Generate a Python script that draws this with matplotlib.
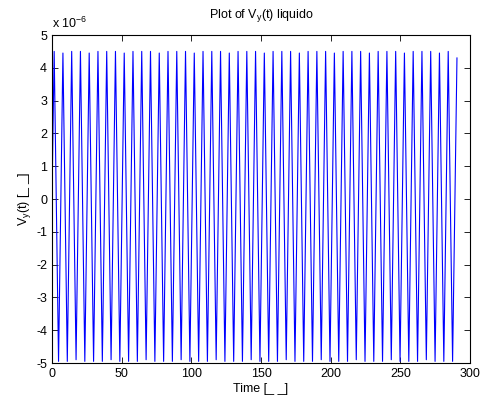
import matplotlib
matplotlib.use('Agg')
import matplotlib.pyplot as plt
from matplotlib.ticker import MultipleLocator

# extremes of the oscillation (values in units of 1e-6)
t_peaks = [1.57, 7.85, 14.14, 20.42, 26.70, 32.99, 39.27, 45.55, 51.84, 58.12,
           64.40, 70.69, 76.97, 83.25, 89.54, 95.82, 102.10, 108.38, 114.67, 120.95,
           127.23, 133.52, 139.80, 146.08, 152.37, 158.65, 164.93, 171.22, 177.50, 183.78,
           190.07, 196.35, 202.63, 208.92, 215.20, 221.48, 227.77, 234.05, 240.33, 246.62,
           252.90, 259.18, 265.47, 271.75, 278.03, 284.32, 290.60]
v_peaks = [4.5, 4.45, 4.5, 4.5, 4.45, 4.5, 4.5, 4.5, 4.45, 4.5,
           4.5, 4.5, 4.45, 4.5, 4.5, 4.5, 4.45, 4.5, 4.5, 4.5,
           4.45, 4.5, 4.5, 4.5, 4.45, 4.5, 4.5, 4.5, 4.45, 4.5,
           4.5, 4.5, 4.45, 4.5, 4.5, 4.5, 4.45, 4.5, 4.5, 4.5,
           4.45, 4.5, 4.5, 4.5, 4.45, 4.5, 4.3]
t_troughs = [4.71, 10.99, 17.28, 23.56, 29.85, 36.13, 42.41, 48.69, 54.98, 61.26,
             67.54, 73.83, 80.11, 86.39, 92.68, 98.96, 105.24, 111.53, 117.81, 124.09,
             130.38, 136.66, 142.94, 149.23, 155.51, 161.79, 168.08, 174.36, 180.64, 186.93,
             193.21, 199.49, 205.77, 212.06, 218.34, 224.62, 230.91, 237.19, 243.47, 249.76,
             256.04, 262.32, 268.61, 274.89, 281.17, 287.46]
v_troughs = [-4.95, -4.95, -4.9, -4.95, -4.95, -4.95, -4.9, -4.95, -4.95, -4.95,
             -4.9, -4.95, -4.95, -4.95, -4.9, -4.95, -4.95, -4.95, -4.9, -4.95,
             -4.95, -4.95, -4.9, -4.95, -4.95, -4.95, -4.9, -4.95, -4.95, -4.95,
             -4.9, -4.95, -4.95, -4.95, -4.9, -4.95, -4.95, -4.95, -4.9, -4.95,
             -4.95, -4.95, -4.9, -4.95, -4.95, -4.95]

# interleave peaks and troughs, starting from the value at t=0
t = [0.0]
v = [0.0]
for i in range(len(t_peaks)):
    t.append(t_peaks[i]); v.append(v_peaks[i])
    if i < len(t_troughs):
        t.append(t_troughs[i]); v.append(v_troughs[i])

plt.rcParams['font.family'] = ['Liberation Sans', 'DejaVu Sans']
plt.rcParams['axes.unicode_minus'] = False

fig = plt.figure(figsize=(4.8, 4.0), dpi=100)
ax = fig.add_axes([0.1083, 0.0925, 0.871, 0.82])
ax.plot(t, v, color='#0000ff', linewidth=0.8)

ax.set_xlim(0, 300)
ax.set_ylim(-5, 5)
ax.xaxis.set_major_locator(MultipleLocator(50))
ax.yaxis.set_major_locator(MultipleLocator(1))
ax.tick_params(direction='in', top=True, right=True, labelsize=9, length=4, width=0.6)
for s in ax.spines.values():
    s.set_linewidth(0.8)

ax.set_title('Plot of V$_\\mathregular{y}$(t) liquido', fontsize=9, pad=12)
ax.set_xlabel('Time [_ _]', fontsize=9, labelpad=2)
ax.set_ylabel('V$_\\mathregular{y}$(t) [_ _]', fontsize=9, labelpad=2)
ax.text(0.0, 1.012, 'x 10$^\\mathregular{-6}$', transform=ax.transAxes, fontsize=9,
        ha='left', va='bottom')

fig.savefig('out.png', dpi=100)
